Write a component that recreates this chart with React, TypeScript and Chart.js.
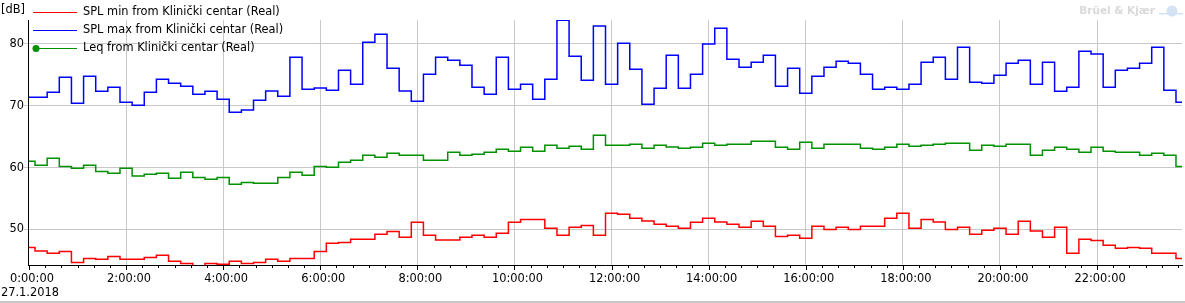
import React, { useEffect, useRef } from 'react';
import { Chart, registerables } from 'chart.js';

Chart.register(...registerables);

const FONT_FAMILY = '"DejaVu Sans", sans-serif';

const seriesNames = [
  'SPL min from Klinički centar (Real)',
  'SPL max from Klinički centar (Real)',
  'Leq from Klinički centar (Real)',
];
const seriesColors = ['#ff0000', '#0000ff', '#009100'];

const splMin = [
  47.08, 46.49, 46.11, 46.43, 44.65, 45.3, 45.14, 45.62, 45.14, 45.14, 45.46, 45.79, 44.82, 44.49, 44.0, 44.49,
  44.33, 44.82, 44.49, 44.65, 45.14, 44.82, 45.3, 45.3, 46.43, 47.73, 47.89, 48.38, 48.38, 49.19, 49.67, 48.7,
  51.13, 49.03, 48.27, 48.27, 48.7, 49.03, 48.7, 49.35, 51.13, 51.61, 51.61, 50.16, 49.03, 50.32, 50.64, 49.03,
  52.59, 52.43, 51.78, 51.34, 50.81, 50.48, 50.16, 51.13, 51.78, 51.18, 50.81, 50.32, 51.29, 50.48, 48.86, 49.03,
  48.54, 50.48, 49.99, 50.32, 49.99, 50.48, 50.48, 51.78, 52.59, 50.16, 51.61, 51.18, 49.99, 50.32, 49.19, 49.84,
  50.16, 49.19, 51.29, 49.72, 48.7, 50.32, 46.11, 48.38, 48.21, 47.41, 46.92, 47.08, 46.92, 46.11, 46.11, 45.3,
];

const splMax = [
  71.37, 71.37, 72.17, 74.6, 70.4, 74.77, 72.34, 72.98, 70.56, 70.07, 72.17, 74.28, 73.63, 73.15, 71.85, 72.34,
  71.04, 68.94, 69.31, 70.88, 72.39, 71.53, 77.84, 72.66, 72.88, 72.5, 75.74, 73.47, 80.27, 81.56, 76.06, 72.39,
  70.72, 75.09, 77.84, 77.36, 76.55, 72.98, 71.85, 77.84, 72.66, 73.47, 71.04, 74.28, 83.83, 78.0, 74.12, 82.91,
  73.47, 80.11, 75.9, 70.23, 72.82, 78.17, 72.82, 75.09, 80.0, 82.54, 77.52, 76.22, 77.03, 78.17, 73.15, 76.06,
  72.01, 74.77, 76.22, 77.19, 76.87, 75.09, 72.66, 72.98, 72.66, 73.47, 77.03, 77.84, 74.28, 79.46, 73.79, 73.63,
  74.93, 76.87, 77.36, 73.47, 77.03, 72.34, 72.98, 78.81, 78.38, 72.98, 75.74, 76.06, 76.87, 79.46, 72.5, 70.56,
];

const leq = [
  61.0, 60.36, 61.49, 60.19, 59.87, 60.36, 59.38, 59.06, 59.87, 58.63, 58.9, 59.06, 58.25, 59.22, 58.41, 58.09,
  58.41, 57.28, 57.6, 57.44, 57.44, 58.41, 59.22, 58.74, 60.19, 60.03, 60.84, 61.17, 61.98, 61.65, 62.3, 61.98,
  61.98, 61.17, 61.17, 62.46, 61.98, 62.14, 62.46, 62.95, 62.63, 63.27, 62.63, 63.59, 63.11, 63.43, 62.95, 65.21,
  63.59, 63.59, 63.76, 63.11, 63.59, 63.32, 63.11, 63.27, 63.92, 63.59, 63.76, 63.76, 64.24, 64.24, 63.27, 62.95,
  64.08, 63.11, 63.76, 63.76, 63.76, 63.11, 62.95, 63.27, 63.76, 63.43, 63.59, 63.76, 63.92, 63.92, 62.79, 63.59,
  63.43, 63.76, 63.76, 61.98, 62.79, 63.27, 62.95, 62.46, 63.27, 62.63, 62.46, 62.46, 61.98, 62.3, 61.98, 60.19,
];

// sampling times in minutes after midnight (15-minute intervals)
const sampleMinutes = splMax.map((_, i) => i * 15);

const dateLabel = '27.1.2018';
const unitLabel = '[dB]';
const brandLabel = 'Brüel & Kjær';

function fmtTime(m: number): string {
  const h = Math.floor(m / 60);
  const mm = m % 60;
  return `${h}:${String(mm).padStart(2, '0')}:00`;
}

const extrasPlugin = {
  id: 'extras',
  afterDraw(chart: any) {
    const ctx: CanvasRenderingContext2D = chart.ctx;
    const xs = chart.scales.x;
    const area = chart.chartArea;
    ctx.save();

    // x-axis tick marks (major every 2h, minor every 20 min)
    ctx.strokeStyle = '#000';
    ctx.lineWidth = 1;
    const bottom = Math.round(area.bottom);
    for (let m = 0; m <= xs.max; m += 20) {
      const px = Math.round(xs.getPixelForValue(m)) + 0.5;
      const len = m % 120 === 0 ? 5 : 3;
      ctx.beginPath();
      ctx.moveTo(px, bottom);
      ctx.lineTo(px, bottom + len);
      ctx.stroke();
    }

    ctx.fillStyle = '#000';
    ctx.font = `11.4px ${FONT_FAMILY}`;
    ctx.textBaseline = 'middle';
    ctx.textAlign = 'left';
    ctx.fillText(unitLabel, 1, 10.5);
    ctx.fillText(dateLabel, 1, 293.5);

    // legend
    for (let i = 0; i < seriesNames.length; i++) {
      const y = Math.round(12.3 + i * 17.7) + 0.5;
      ctx.strokeStyle = seriesColors[i];
      ctx.lineWidth = 1.2;
      ctx.beginPath();
      ctx.moveTo(33, y);
      ctx.lineTo(77, y);
      ctx.stroke();
      if (i === 2) {
        ctx.fillStyle = seriesColors[i];
        ctx.beginPath();
        ctx.arc(36, y, 3.5, 0, Math.PI * 2);
        ctx.fill();
      }
      ctx.fillStyle = '#000';
      ctx.fillText(seriesNames[i], 83, y);
    }

    // watermark
    ctx.fillStyle = '#d9d9d9';
    ctx.font = `bold 10.5px ${FONT_FAMILY}`;
    ctx.textAlign = 'right';
    ctx.fillText(brandLabel, 1155, 11);
    ctx.textAlign = 'left';
    ctx.fillStyle = '#d3e2f5';
    ctx.beginPath();
    ctx.arc(1172, 11, 5.5, 0, Math.PI * 2);
    ctx.fill();
    ctx.fillRect(1159, 13, 24, 1.5);

    // bottom border line
    ctx.fillStyle = '#c8c8c8';
    ctx.fillRect(0, 301, chart.width, 2);
    ctx.restore();
  },
};

export default function App() {
  const canvasRef = useRef<HTMLCanvasElement | null>(null);

  useEffect(() => {
    const canvas = canvasRef.current;
    if (!canvas) return;
    const toPoints = (arr: number[]) => arr.map((y, i) => ({ x: sampleMinutes[i], y }));
    const font = { family: FONT_FAMILY, size: 11.4 };
    const chart = new Chart(canvas, {
      type: 'line',
      data: {
        datasets: [splMin, splMax, leq].map((d, i) => ({
          label: seriesNames[i],
          data: toPoints(d),
          borderColor: seriesColors[i],
          backgroundColor: seriesColors[i],
          borderWidth: 1.5,
          pointRadius: 0,
          stepped: 'middle' as const,
          fill: false,
        })),
      },
      options: {
        animation: false,
        responsive: false,
        devicePixelRatio: 1,
        layout: { padding: { top: 20, right: 1.4, left: 0, bottom: 0 } },
        plugins: { legend: { display: false }, tooltip: { enabled: false } },
        scales: {
          x: {
            type: 'linear',
            min: 0,
            max: 1425,
            afterFit: (s: any) => {
              s.height = 37.7;
            },
            ticks: {
              stepSize: 20,
              includeBounds: false,
              autoSkip: false,
              maxRotation: 0,
              minRotation: 0,
              padding: 7,
              labelOffset: 3,
              font,
              color: '#000',
              callback: (v: any) => (Number(v) % 120 === 0 ? fmtTime(Number(v)) : ''),
            },
            grid: {
              color: (c: any) => (c.tick && c.tick.value % 120 === 0 ? '#c8c8c8' : 'rgba(0,0,0,0)'),
              drawTicks: false,
              lineWidth: 1,
            },
            border: { color: '#000', width: 1 },
          },
          y: {
            min: 44.18,
            max: 83.88,
            afterFit: (s: any) => {
              s.width = 25.67;
            },
            ticks: { stepSize: 10, includeBounds: false, padding: 0, font, color: '#000' },
            grid: { color: '#c8c8c8', tickLength: 5, drawTicks: true, lineWidth: 1 },
            border: { color: '#000', width: 1 },
          },
        },
      },
      plugins: [extrasPlugin],
    });
    return () => chart.destroy();
  }, []);

  return (
    <div style={{ position: 'fixed', left: 0, top: 0, width: 1185, height: 303, background: '#fff' }}>
      <canvas ref={canvasRef} width={1185} height={303} style={{ display: 'block', width: 1185, height: 303 }} />
    </div>
  );
}
